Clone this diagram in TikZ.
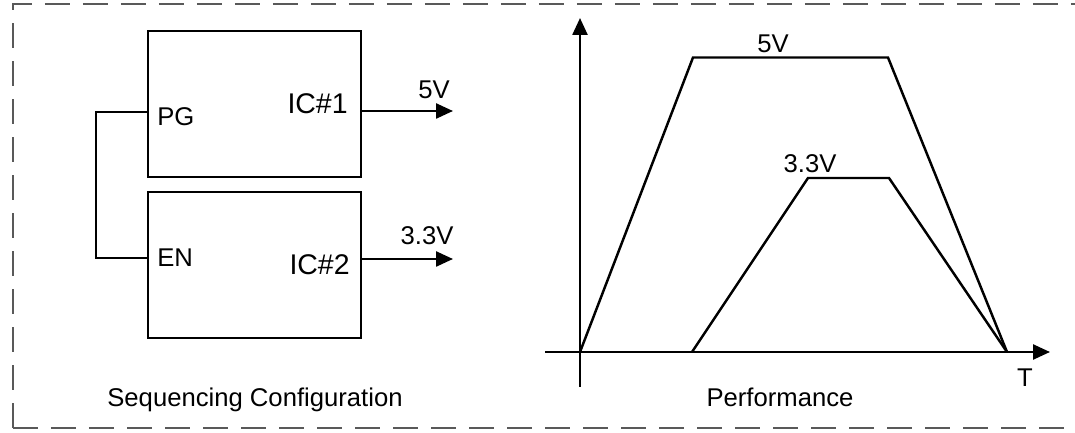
\documentclass[tikz,border=0pt]{standalone}
\usepackage{fontspec}
\setmainfont{Liberation Sans}
\usepackage{tikz}
\usetikzlibrary{arrows.meta}
\usetikzlibrary{positioning}
\tikzset{
    icbox/.style = {draw, line width=1.4pt, outer sep=0pt,
                 minimum width=4.26cm, minimum height=2.92cm},
    lbl/.style = {inner sep=0pt, font=\fontsize{14.6pt}{17pt}\selectfont},
    iclbl/.style = {inner sep=0pt, font=\fontsize{16.2pt}{19pt}\selectfont},
    wire/.style = {line width=1.4pt},
    arr/.style = {line width=1.4pt, -{Triangle[length=0.34cm, width=0.3cm]}},
}

\begin{document}
\begin{tikzpicture}
 \useasboundingbox (0,0) rectangle (21.5,8.66);
 % frame
 \draw[gray!70!black, line width=1.4pt, dash pattern=on 0.5cm off 0.26cm]
   (0.26,0.10) -- (0.26,8.58) -- (21.7,8.58)  (0.26,0.10) -- (21.7,0.10);

 % sequencing configuration
 \node (ic1) [icbox] at (5.09,6.58) {};
 \node (ic2) [icbox, below=0.3cm of ic1] {};
 \node (l1) [iclbl, anchor=base east] at (6.96,6.38) {IC\#1};
 \node (l2) [iclbl, anchor=base east] at (7.00,3.16) {IC\#2};
 \node (pgl) [lbl, anchor=base west] at (3.14,6.14) {PG};
 \node (enl) [lbl, anchor=base west] at (3.14,3.32) {EN};
 \coordinate (pg) at (ic1.west |- 0,6.42);
 \coordinate (en) at (ic2.west |- 0,3.50);
 \draw[wire] (pg) -- ++(-1.04,0) |- (en);
 \coordinate (o1) at (9.06,6.44);
 \coordinate (o2) at (9.06,3.48);
 \draw[arr] (ic1.east |- o1) -- (o1);
 \draw[arr] (ic2.east |- o2) -- (o2);
 \node (v1) [lbl, anchor=base] at (8.68,6.68) {5V};
 \node (v2) [lbl, anchor=base] at (8.54,3.76) {3.3V};
 \node (cap1) [lbl, anchor=base] at (5.10,0.52) {Sequencing Configuration};

 % performance
 \coordinate (org) at (11.60,1.62);
 \coordinate (ytop) at (11.60,8.30);
 \coordinate (ybot) at (11.60,0.92);
 \coordinate (xl) at (10.90,1.62);
 \coordinate (xr) at (21.00,1.62);
 \draw[arr] (ybot) -- (ytop);
 \draw[arr] (xl) -- (xr);
 \draw[wire, line join=miter] (org) -- (13.86,7.51) -- (17.76,7.51) -- (20.14,1.62);
 \draw[wire, line join=miter] (13.84,1.62) -- (16.16,5.10) -- (17.78,5.10) -- (20.14,1.62);
 \node (g1) [lbl, anchor=base] at (15.46,7.60) {5V};
 \node (g2) [lbl, anchor=base] at (16.20,5.20) {3.3V};
 \node (t) [lbl, anchor=base] at (20.50,0.92) {T};
 \node (cap2) [lbl, anchor=base] at (15.60,0.52) {Performance};
\end{tikzpicture}
\end{document}
